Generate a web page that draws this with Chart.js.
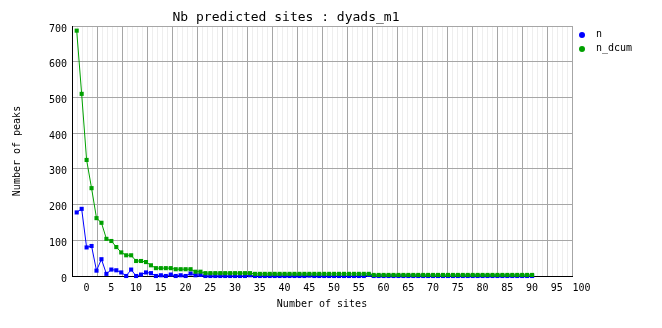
<!DOCTYPE html>
<html>
<head>
<meta charset="utf-8">
<title>Nb predicted sites : dyads_m1</title>
<script src="https://cdn.jsdelivr.net/npm/chart.js@4.4.1/dist/chart.umd.min.js"></script>
<style>
  html, body { margin: 0; padding: 0; background: #fff; }
  #wrap { position: relative; width: 662px; height: 328px; }
  #legend { position: absolute; left: 579px; top: 27px; font: 10px "DejaVu Sans Mono", monospace; color: #000; }
  #legend .item { height: 13.5px; line-height: 13.5px; white-space: nowrap; }
  #legend .dot { display: inline-block; width: 6px; height: 6px; border-radius: 50%; margin-right: 11px; vertical-align: -1px; }
</style>
</head>
<body>
<div id="wrap">
  <canvas id="chart" width="662" height="328"></canvas>
  <div id="legend"></div>
</div>
<script>
// Données
const sites = [
    -2, -1, 0, 1, 2, 3, 4, 5, 6, 7, 8, 9, 10, 11, 12, 13, 14, 15, 16, 17, 18, 19, 20,
    21, 22, 23, 24, 25, 26, 27, 28, 29, 30, 31, 32, 33, 34, 35, 36, 37, 38, 39, 40,
    41, 42, 43, 44, 45, 46, 47, 48, 49, 50, 51, 52, 53, 54, 55, 56, 57, 58, 59, 60,
    61, 62, 63, 64, 65, 66, 67, 68, 69, 70, 71, 72, 73, 74, 75, 76, 77, 78, 79, 80,
    81, 82, 83, 84, 85, 86, 87, 88, 89, 90
];

const nValues = [
    178, 188, 80, 84, 15, 47, 6, 18, 16, 10, 0, 18, 0, 4, 10, 8, 0, 2, 0, 4, 0, 2, 0,
    7, 2, 3, 0, 0, 0, 0, 0, 0, 0, 0, 0, 2, 0, 0, 0, 0, 0, 0, 0,
    0, 0, 0, 0, 1, 0, 0, 0, 0, 0, 0, 0, 0, 0, 0, 0, 3, 0, 0, 0,
    0, 0, 0, 0, 0, 0, 0, 0, 0, 0, 0, 0, 0, 0, 0, 0, 0, 0, 0, 0,
    0, 0, 0, 0, 0, 0, 0, 0, 0, 0
];

const nDcumValues = [
    687, 510, 325, 246, 162, 149, 104, 98, 81, 66, 58, 58, 42, 42, 39, 30, 22, 22, 22, 22, 19, 19, 19,
    19, 12, 12, 8, 8, 8, 8, 8, 8, 8, 8, 8, 8, 6, 6, 6, 6, 6, 6, 6,
    6, 6, 6, 6, 6, 6, 6, 6, 6, 6, 6, 6, 6, 6, 6, 6, 6, 3, 3, 3,
    3, 3, 3, 3, 3, 3, 3, 3, 3, 3, 3, 3, 3, 3, 3, 3, 3, 3, 3, 3,
    3, 3, 3, 3, 3, 3, 3, 3, 3, 3
];

const xTickLabels = [0, 5, 10, 15, 20, 25, 30, 35, 40, 45, 50, 55, 60, 65, 70, 75, 80, 85, 90, 95, 100];
const yTickLabels = [0, 100, 200, 300, 400, 500, 600, 700];

const blue = '#0000ff';
const green = '#00a000';
const majorGrid = '#a6a6a6';
const minorGrid = '#eeeeee';
const mono = '"DejaVu Sans Mono", monospace';

Chart.defaults.color = '#000';
Chart.defaults.font.family = mono;
Chart.defaults.font.size = 10;

function toPoints(values) {
    return sites.map((s, i) => ({ x: s, y: values[i] }));
}

function lineDataset(label, values, color, order) {
    return {
        label: label,
        data: toPoints(values),
        borderColor: color,
        backgroundColor: color,
        borderWidth: 1,
        pointStyle: 'rect',
        pointRadius: 2.9,
        pointBorderWidth: 0,
        tension: 0,
        clip: false,
        order: order
    };
}

const ctx = document.getElementById('chart').getContext('2d');
const chart = new Chart(ctx, {
    type: 'line',
    data: {
        datasets: [
            lineDataset('n', nValues, blue, 1),
            lineDataset('n_dcum', nDcumValues, green, 0)
        ]
    },
    options: {
        responsive: false,
        animation: false,
        events: [],
        layout: { padding: { left: 0, right: 90, top: 0, bottom: 0 } },
        plugins: {
            legend: { display: false },
            tooltip: { enabled: false },
            title: {
                display: true,
                text: 'Nb predicted sites : dyads_m1',
                color: '#000',
                font: { family: mono, size: 13, weight: 'normal', lineHeight: '16px' },
                padding: { top: 10, bottom: 0 }
            }
        },
        scales: {
            x: {
                type: 'linear',
                position: 'bottom',
                min: -2.95,
                max: 98.06,
                afterBuildTicks: (scale) => {
                    scale.ticks = xTickLabels.map(v => ({ value: v }));
                },
                afterFit: (scale) => { scale.height = 52; },
                grid: { display: false, drawTicks: false, tickLength: 0 },
                border: { color: '#000', width: 1 },
                ticks: { autoSkip: false, maxRotation: 0, padding: 6 },
                title: {
                    display: true,
                    text: 'Number of sites',
                    padding: { top: 0, bottom: 18 }
                }
            },
            xg: {
                type: 'linear',
                position: 'top',
                min: 0,
                max: 100,
                afterFit: (scale) => { scale.height = 0; },
                ticks: { display: false, stepSize: 1, maxTicksLimit: 200 },
                grid: {
                    drawTicks: false,
                    color: (c) => {
                        if (c.tick.value === 0) return 'rgba(0,0,0,0)';
                        return c.tick.value % 5 === 0 ? majorGrid : minorGrid;
                    }
                },
                border: { display: false }
            },
            y: {
                type: 'linear',
                min: 0,
                max: 700,
                afterBuildTicks: (scale) => {
                    scale.ticks = yTickLabels.map(v => ({ value: v }));
                },
                afterFit: (scale) => { scale.width = 72; },
                grid: { color: majorGrid, drawTicks: false },
                border: { color: '#000', width: 1 },
                ticks: { padding: 5, labelOffset: 3 },
                title: {
                    display: true,
                    text: 'Number of peaks',
                    padding: { top: 11, bottom: 0 }
                }
            }
        }
    }
});

// Légende HTML construite à partir des séries
const legend = document.getElementById('legend');
chart.data.datasets.forEach(ds => {
    const item = document.createElement('div');
    item.className = 'item';
    const dot = document.createElement('span');
    dot.className = 'dot';
    dot.style.background = ds.borderColor;
    item.appendChild(dot);
    item.appendChild(document.createTextNode(ds.label));
    legend.appendChild(item);
});
</script>
</body>
</html>
